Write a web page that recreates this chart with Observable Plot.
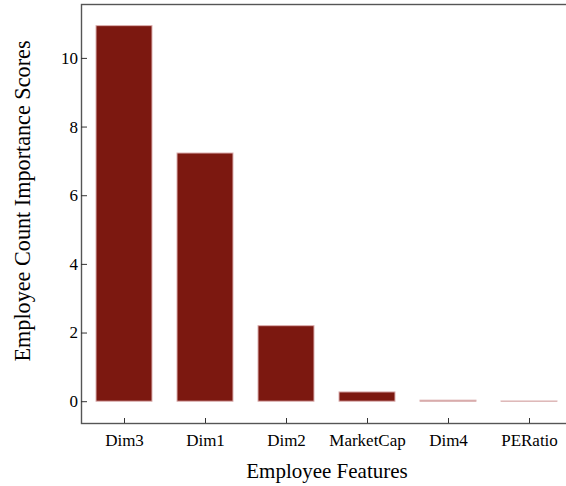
<!DOCTYPE html>
<html>
<head>
<meta charset="utf-8">
<script src="https://cdn.jsdelivr.net/npm/d3@7"></script>
<script src="https://cdn.jsdelivr.net/npm/@observablehq/plot@0.6"></script>
<style>
  html, body { margin: 0; padding: 0; background: #fff; overflow: hidden; }
  #chart { width: 566px; height: 486px; overflow: hidden; }
</style>
</head>
<body>
<div id="chart"></div>
<script>
const features = ["Dim3", "Dim1", "Dim2", "MarketCap", "Dim4", "PERatio"];
const scores = [10.94, 7.23, 2.20, 0.27, 0.03, 0.006];
const yTicks = [0, 2, 4, 6, 8, 10];
const xTitle = "Employee Features";
const yTitle = "Employee Count Importance Scores";

const data = features.map((f, i) => ({feature: f, score: scores[i]}));

const plot = Plot.plot({
  width: 566,
  height: 486,
  marginLeft: 81,
  marginRight: -7,
  marginTop: 4,
  marginBottom: 63,
  style: {fontFamily: "'Liberation Serif', 'Times New Roman', serif", fontSize: "17px", color: "#000", background: "#fff"},
  x: {domain: features, paddingInner: 0.306, paddingOuter: 0.163},
  y: {domain: [-0.635, 11.57]},
  marks: [
    Plot.barY(data, {x: "feature", y: "score", fill: "#7c1810", stroke: "#dcb0b0", strokeWidth: 1}),
    Plot.frame({stroke: "#555", strokeWidth: 1.4}),
    Plot.axisY(yTicks, {anchor: "left", tickSize: -6, tickPadding: 9.5, label: null, stroke: "#333", fill: "#000", fontSize: 17}),
    Plot.axisX({anchor: "bottom", tickSize: -5, tickPadding: 15, label: null, stroke: "#333", fill: "#000", fontSize: 17})
  ]
});

const svg = d3.select(plot);
svg.append("text")
  .attr("x", 327).attr("y", 478)
  .attr("text-anchor", "middle")
  .attr("font-family", "'Liberation Serif', 'Times New Roman', serif")
  .attr("font-size", 21)
  .attr("fill", "#000")
  .text(xTitle);
svg.append("text")
  .attr("transform", "translate(30,201) rotate(-90)")
  .attr("text-anchor", "middle")
  .attr("font-family", "'Liberation Serif', 'Times New Roman', serif")
  .attr("font-size", 22.2)
  .attr("fill", "#000")
  .text(yTitle);

document.getElementById("chart").appendChild(plot);
</script>
</body>
</html>
